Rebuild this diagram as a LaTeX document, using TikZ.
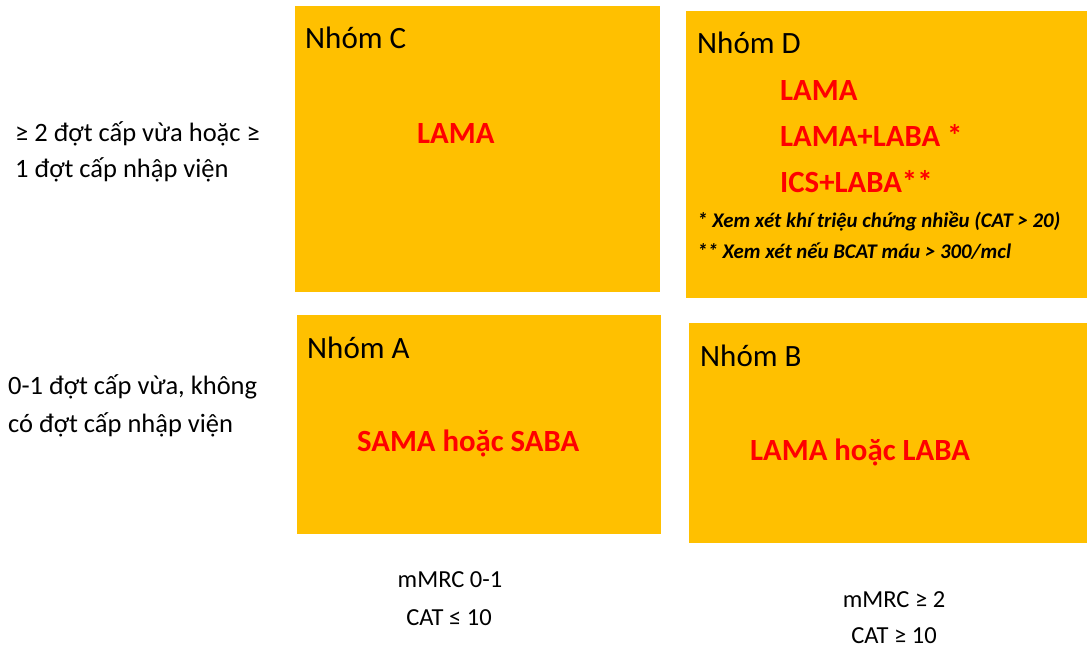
\documentclass[tikz,border=0pt]{standalone}
\usepackage{fontspec}
\setmainfont{Carlito}
\definecolor{boxc}{HTML}{FFC000}
\definecolor{redt}{HTML}{FF0000}
\begin{document}
\begin{tikzpicture}[x=1pt,y=-1pt,
  box/.style={fill=boxc,draw=none},
  grp/.style={anchor=base west,inner sep=0pt,font=\fontsize{31}{36}\selectfont},
  drug/.style={anchor=base west,inner sep=0pt,text=redt,font=\fontsize{30.8}{36}\selectfont\bfseries},
  note/.style={anchor=base west,inner sep=0pt,font=\fontsize{20.8}{25}\selectfont\bfseries\itshape},
  side/.style={anchor=base west,inner sep=0pt,font=\fontsize{26.5}{31}\selectfont},
  axis/.style={anchor=base,inner sep=0pt,font=\fontsize{24.5}{29}\selectfont}]
\useasboundingbox (0,0) rectangle (1089,656);
\fill[box] (295,6) rectangle (660,292);
\fill[box] (686,11) rectangle (1087,298);
\fill[box] (297,315) rectangle (661,534);
\fill[box] (689,323) rectangle (1087,543);
% group C
\node[grp] (nc) at (305,48) {Nhóm C};
\node[drug] (lc) at (417,143) {LAMA};
% group D
\node[grp] (nd) at (697,53) {Nhóm D};
\node[drug] (d1) at (780,100) {LAMA};
\node[drug] (d2) at (780,146) {LAMA+LABA *};
\node[drug] (d3) at (780,192) {ICS+LABA**};
\node[note] (n1) at (697,227) {* Xem xét khí triệu chứng nhiều (CAT > 20)};
\node[note] (n2) at (697,258) {** Xem xét nếu BCAT máu > 300/mcl};
% group A
\node[grp] (na) at (307,358) {Nhóm A};
\node[drug] (la) at (357,451) {SAMA hoặc SABA};
% group B
\node[grp] (nb) at (700,366) {Nhóm B};
\node[drug] (lb) at (750,460) {LAMA hoặc LABA};
% side labels
\node[side] (s1) at (15,141) {≥ 2 đợt cấp vừa hoặc ≥};
\node[side] (s2) at (15,177) {1 đợt cấp nhập viện};
\node[side] (s3) at (8,394) {0-1 đợt cấp vừa, không};
\node[side] (s4) at (8,432) {có đợt cấp nhập viện};
% bottom labels
\node[axis] (b1) at (450,587) {mMRC 0-1};
\node[axis] (b2) at (449,625) {CAT ≤ 10};
\node[axis] (b3) at (894,607) {mMRC ≥ 2};
\node[axis] (b4) at (894,643) {CAT ≥ 10};
\end{tikzpicture}
\end{document}
